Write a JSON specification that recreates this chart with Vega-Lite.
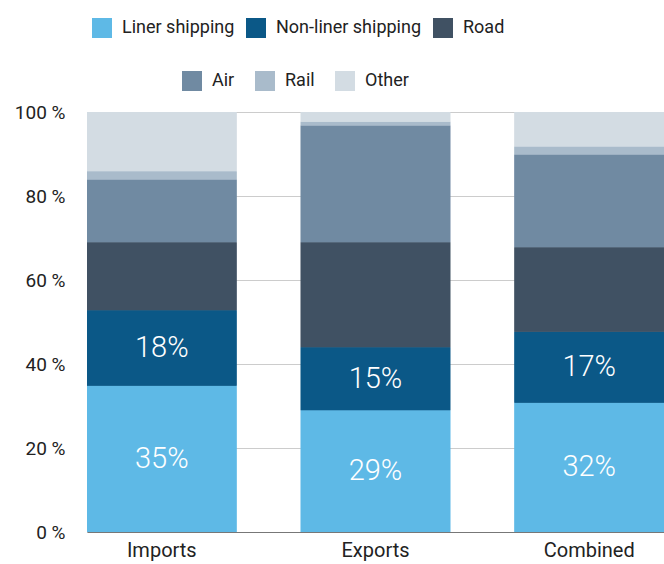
{
  "$schema": "https://vega.github.io/schema/vega-lite/v6.json",
  "width": 577,
  "height": 420,
  "autosize": {"type": "none"},
  "padding": {"left": 87, "top": 112, "right": 0, "bottom": 32},
  "config": {"view": {"stroke": null}, "font": "Roboto"},
  "data": {
    "values": [
      {"category": "Imports", "mode": "Liner shipping", "order": 1, "value": 34.8, "label": "35%"},
      {"category": "Imports", "mode": "Non-liner shipping", "order": 2, "value": 18.0, "label": "18%"},
      {"category": "Imports", "mode": "Road", "order": 3, "value": 16.2, "label": ""},
      {"category": "Imports", "mode": "Air", "order": 4, "value": 14.9, "label": ""},
      {"category": "Imports", "mode": "Rail", "order": 5, "value": 2.0, "label": ""},
      {"category": "Imports", "mode": "Other", "order": 6, "value": 14.1, "label": ""},
      {"category": "Exports", "mode": "Liner shipping", "order": 1, "value": 29.0, "label": "29%"},
      {"category": "Exports", "mode": "Non-liner shipping", "order": 2, "value": 15.0, "label": "15%"},
      {"category": "Exports", "mode": "Road", "order": 3, "value": 25.0, "label": ""},
      {"category": "Exports", "mode": "Air", "order": 4, "value": 27.8, "label": ""},
      {"category": "Exports", "mode": "Rail", "order": 5, "value": 0.9, "label": ""},
      {"category": "Exports", "mode": "Other", "order": 6, "value": 2.3, "label": ""},
      {"category": "Combined", "mode": "Liner shipping", "order": 1, "value": 30.8, "label": "32%"},
      {"category": "Combined", "mode": "Non-liner shipping", "order": 2, "value": 16.9, "label": "17%"},
      {"category": "Combined", "mode": "Road", "order": 3, "value": 20.1, "label": ""},
      {"category": "Combined", "mode": "Air", "order": 4, "value": 22.1, "label": ""},
      {"category": "Combined", "mode": "Rail", "order": 5, "value": 1.9, "label": ""},
      {"category": "Combined", "mode": "Other", "order": 6, "value": 8.2, "label": ""}
    ]
  },
  "transform": [
    {"stack": "value", "groupby": ["category"], "sort": [{"field": "order", "order": "ascending"}], "as": ["v0", "v1"]},
    {"calculate": "(datum.v0 + datum.v1) / 2", "as": "mid"}
  ],
  "encoding": {
    "x": {
      "field": "category", "type": "nominal", "sort": ["Imports", "Exports", "Combined"],
      "scale": {"paddingInner": 0.3, "paddingOuter": 0},
      "axis": {"title": null, "labelAngle": 0, "domainColor": "#777777", "ticks": false, "labelFontSize": 20, "labelColor": "#222222", "labelPadding": 8}
    }
  },
  "layer": [
    {
      "mark": {"type": "bar"},
      "encoding": {
        "y": {
          "field": "v0", "type": "quantitative",
          "scale": {"domain": [0, 100], "nice": false},
          "axis": {"title": null, "values": [0, 20, 40, 60, 80, 100], "labelExpr": "datum.value + ' %'", "grid": true, "gridColor": "#cccccc", "domain": false, "ticks": false, "labelPadding": 22, "labelFontSize": 19, "labelColor": "#222222"}
        },
        "y2": {"field": "v1"},
        "color": {
          "field": "mode", "type": "nominal",
          "scale": {
            "domain": ["Liner shipping", "Non-liner shipping", "Road", "Air", "Rail", "Other"],
            "range": ["#5EB9E6", "#0B5887", "#405163", "#708AA2", "#A9BBCB", "#D3DCE3"]
          },
          "legend": {
            "values": ["Liner shipping", "Non-liner shipping", "Road"],
            "title": null, "orient": "none", "legendX": 5, "legendY": -94, "direction": "horizontal",
            "symbolType": "square", "symbolSize": 400, "symbolStrokeWidth": 0,
            "labelFontSize": 18, "labelColor": "#222222", "labelOffset": 10, "columnPadding": 11
          }
        }
      }
    },
    {
      "mark": {"type": "bar"},
      "encoding": {
        "y": {"field": "v0", "type": "quantitative"},
        "y2": {"field": "v1"},
        "color": {
          "field": "mode", "type": "nominal",
          "legend": {
            "values": ["Air", "Rail", "Other"],
            "title": null, "orient": "none", "legendX": 95, "legendY": -41, "direction": "horizontal",
            "symbolType": "square", "symbolSize": 400, "symbolStrokeWidth": 0,
            "labelFontSize": 18, "labelColor": "#222222", "labelOffset": 10, "columnPadding": 20
          }
        }
      }
    },
    {
      "mark": {"type": "text", "color": "white", "fontSize": 29, "fontWeight": 300, "baseline": "middle"},
      "encoding": {
        "y": {"field": "mid", "type": "quantitative"},
        "text": {"field": "label"}
      }
    }
  ],
  "resolve": {"legend": {"color": "independent"}}
}
